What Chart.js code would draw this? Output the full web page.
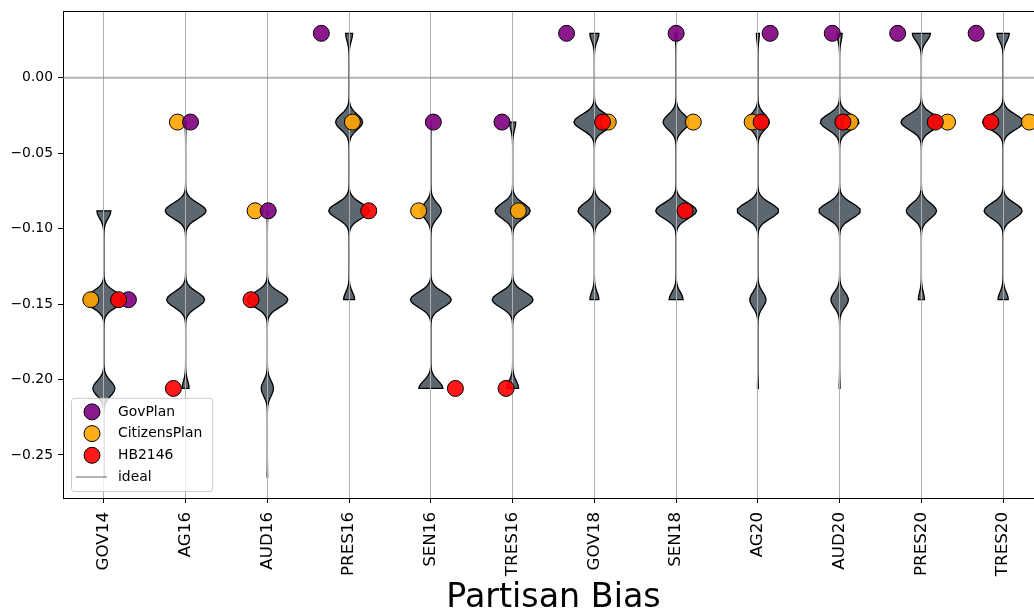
<!DOCTYPE html>
<html>
<head>
<meta charset="utf-8">
<script src="https://cdn.jsdelivr.net/npm/chart.js@4.4.0/dist/chart.umd.min.js"></script>
<style>
  html, body { margin: 0; padding: 0; background: #fff; overflow: hidden; }
  #biasChart { display: block; }
</style>
</head>
<body>
<canvas id="biasChart" width="1034" height="613"></canvas>
<script>
var elections = ['GOV14', 'AG16', 'AUD16', 'PRES16', 'SEN16', 'TRES16',
                 'GOV18', 'SEN18', 'AG20', 'AUD20', 'PRES20', 'TRES20'];

// partisan bias levels seen in the ensemble (steps of 1/34)
var levels = [0.0294, -0.0294, -0.0882, -0.1471, -0.2059, -0.2647];

// relative ensemble share at each level, one row per election
var ensemble = [
  [0,    0,    0.34, 1,    0.54, 0.01],  // GOV14
  [0,    0.03, 1,    0.93, 0.17, 0],     // AG16
  [0,    0,    0.03, 1,    0.30, 0.01],  // AUD16
  [0.17, 0.66, 1,    0.27, 0,    0],     // PRES16
  [0,    0.01, 0.51, 1,    0.59, 0],     // SEN16
  [0,    0.15, 0.86, 1,    0.29, 0],     // TRES16
  [0.22, 1,    0.80, 0.22, 0,    0],     // GOV18
  [0.05, 0.64, 1,    0.34, 0,    0],     // SEN18
  [0.07, 0.55, 1,    0.39, 0.02, 0],     // AG20
  [0.12, 0.93, 1,    0.42, 0.02, 0],     // AUD20
  [0.44, 1,    0.74, 0.15, 0,    0],     // PRES20
  [0.30, 1,    0.93, 0.25, 0,    0]      // TRES20
];

var govPlan      = [-0.1471, -0.0294, -0.0882, 0.0294, -0.0294, -0.0294, 0.0294, 0.0294, 0.0294, 0.0294, 0.0294, 0.0294];
var citizensPlan = [-0.1471, -0.0294, -0.0882, -0.0294, -0.0882, -0.0882, -0.0294, -0.0294, -0.0294, -0.0294, -0.0294, -0.0294];
var hb2146       = [-0.1471, -0.2059, -0.1471, -0.0882, -0.2059, -0.2059, -0.0294, -0.0882, -0.0294, -0.0294, -0.0294, -0.0294];

// horizontal jitter of the plan markers
var govJitter = [0.30, 0.06, 0.01, -0.34, 0.03, -0.13, -0.34, 0.00, 0.15, -0.09, -0.29, -0.33];
var citJitter = [-0.16, -0.10, -0.15, 0.04, -0.15, 0.07, 0.17, 0.21, -0.07, 0.13, 0.32, 0.32];
var hbJitter  = [0.18, -0.15, -0.20, 0.24, 0.30, -0.08, 0.10, 0.11, 0.04, 0.04, 0.17, -0.15];

var ideal = 0;
var yTicks = [0, -0.05, -0.10, -0.15, -0.20, -0.25];
var xMin = -0.5, xMax = 11.5;
var yMin = -0.2785, yMax = 0.0442;

var bandwidth = 0.005;
var violinWidth = 0.5;
var cropRight = 10; // the plot runs this far past the right edge of the picture

function points(vals, jit) {
  return vals.map(function (v, i) { return { x: i + jit[i], y: v }; });
}

var violins = {
  id: 'violins',
  afterLayout: function (chart) {
    var xs = chart.scales.x;
    chart.chartArea.right += cropRight;
    chart.chartArea.width += cropRight;
    xs.right += cropRight;
    xs.width += cropRight;
    xs.configure();
  },
  beforeDraw: function (chart) {
    var c = chart.ctx, xs = chart.scales.x, ys = chart.scales.y, a = chart.chartArea;
    c.save();
    c.beginPath();
    c.rect(a.left, a.top, a.right - a.left, a.bottom - a.top);
    c.clip();
    ensemble.forEach(function (w, i) {
      var used = levels.filter(function (l, k) { return w[k] > 0; });
      var lo = Math.min.apply(null, used), hi = Math.max.apply(null, used);
      var vs = [], ds = [];
      for (var s = 0; s < 100; s++) {
        var v = lo + (hi - lo) * s / 99, d = 0;
        levels.forEach(function (l, k) {
          var z = (v - l) / bandwidth;
          d += w[k] * Math.exp(-0.5 * z * z);
        });
        vs.push(v); ds.push(d);
      }
      var top = Math.max.apply(null, ds);
      c.beginPath();
      for (var j = 0; j < vs.length; j++) {
        c.lineTo(xs.getPixelForValue(i - violinWidth / 2 * ds[j] / top), ys.getPixelForValue(vs[j]));
      }
      for (j = vs.length - 1; j >= 0; j--) {
        c.lineTo(xs.getPixelForValue(i + violinWidth / 2 * ds[j] / top), ys.getPixelForValue(vs[j]));
      }
      c.closePath();
      c.fillStyle = 'rgb(92,103,112)';
      c.fill();
      c.lineWidth = 1.3;
      c.strokeStyle = '#000';
      c.stroke();
    });
    c.restore();
  },
  afterDraw: function (chart) {
    var c = chart.ctx, a = chart.chartArea;
    c.save();
    // top and right spines
    c.strokeStyle = '#000';
    c.lineWidth = 1;
    c.beginPath();
    c.moveTo(a.left, a.top + 0.5);
    c.lineTo(a.right, a.top + 0.5);
    c.moveTo(a.right - 0.5, a.top);
    c.lineTo(a.right - 0.5, a.bottom);
    c.stroke();

    // legend inside the plot, lower left
    var sets = chart.data.datasets;
    var fs = 13.9, rowH = 21.7;
    c.font = fs + 'px "DejaVu Sans"';
    var tw = 0;
    sets.forEach(function (d) { tw = Math.max(tw, c.measureText(d.label).width); });
    var bx = a.left + 8, bh = rowH * (sets.length - 1) + 28;
    var by = a.bottom - 7 - bh, bw = 47 + tw + 10;
    c.fillStyle = 'rgba(255,255,255,0.8)';
    c.strokeStyle = '#cccccc';
    c.beginPath();
    c.roundRect(bx + 0.5, by + 0.5, bw, bh, 3);
    c.fill();
    c.stroke();
    sets.forEach(function (d, k) {
      var cy = by + 14 + k * rowH;
      if (d.type === 'line') {
        c.strokeStyle = d.borderColor;
        c.lineWidth = d.borderWidth;
        c.beginPath();
        c.moveTo(bx + 5, cy);
        c.lineTo(bx + 36, cy);
        c.stroke();
      } else {
        c.beginPath();
        c.arc(bx + 21, cy, d.pointRadius, 0, Math.PI * 2);
        c.fillStyle = d.backgroundColor;
        c.fill();
        c.lineWidth = 1;
        c.strokeStyle = '#000';
        c.stroke();
      }
      c.fillStyle = '#000';
      c.textBaseline = 'middle';
      c.textAlign = 'left';
      c.fillText(d.label, bx + 47, cy);
    });
    c.restore();
  }
};

function marker(label, vals, jit, color, order) {
  return {
    type: 'scatter',
    label: label,
    data: points(vals, jit),
    backgroundColor: color,
    borderColor: '#000',
    borderWidth: 1,
    pointRadius: 8,
    order: order
  };
}

new Chart(document.getElementById('biasChart'), {
  data: {
    datasets: [
      marker('GovPlan', govPlan, govJitter, 'rgba(128,0,128,0.9)', 1),
      marker('CitizensPlan', citizensPlan, citJitter, 'rgba(255,165,0,0.9)', 2),
      marker('HB2146', hb2146, hbJitter, 'rgba(255,0,0,0.9)', 0),
      {
        type: 'line',
        label: 'ideal',
        data: [{ x: xMin, y: ideal }, { x: xMax, y: ideal }],
        borderColor: 'rgba(128,128,128,0.6)',
        borderWidth: 2,
        pointRadius: 0,
        order: 3
      }
    ]
  },
  options: {
    responsive: false,
    animation: false,
    events: [],
    layout: { autoPadding: false, padding: { left: 0, right: 0, top: 11, bottom: 0 } },
    plugins: { legend: { display: false }, tooltip: { enabled: false } },
    scales: {
      x: {
        type: 'linear',
        min: xMin,
        max: xMax,
        afterBuildTicks: function (s) {
          s.ticks = elections.map(function (e, i) { return { value: i }; });
        },
        afterFit: function (s) {
          s.height = 115;
          s.paddingLeft = 0;
          s.paddingRight = 0;
        },
        ticks: {
          autoSkip: false,
          minRotation: 90,
          maxRotation: 90,
          padding: 9,
          color: '#000',
          font: { family: 'DejaVu Sans', size: 16.7 },
          callback: function (v) { return elections[v]; }
        },
        grid: { color: '#b0b0b0', lineWidth: 1, tickColor: '#000', tickLength: 5 },
        border: { color: '#000', width: 1 },
        title: {
          display: true,
          text: 'Partisan Bias',
          color: '#000',
          font: { family: 'DejaVu Sans', size: 33.3, lineHeight: 1 },
          padding: { top: 0, bottom: -2 }
        }
      },
      y: {
        min: yMin,
        max: yMax,
        afterBuildTicks: function (s) {
          s.ticks = yTicks.map(function (v) { return { value: v }; });
        },
        afterFit: function (s) {
          s.width = 63;
          s.paddingTop = 0;
          s.paddingBottom = 0;
        },
        ticks: {
          padding: 5,
          color: '#000',
          font: { family: 'DejaVu Sans', size: 13.9 },
          callback: function (v) {
            var t = Math.abs(v).toFixed(2);
            return v < -1e-9 ? '\u2212' + t : t;
          }
        },
        grid: { drawOnChartArea: false, tickColor: '#000', tickLength: 5 },
        border: { color: '#000', width: 1 }
      }
    }
  },
  plugins: [violins]
});
</script>
</body>
</html>
